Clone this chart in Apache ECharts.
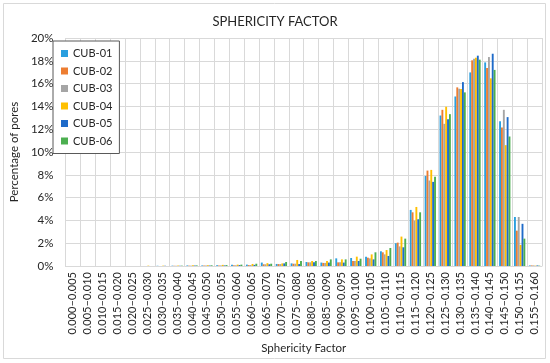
<!DOCTYPE html>
<html>
<head>
<meta charset="utf-8">
<script src="https://cdn.jsdelivr.net/npm/echarts@6/dist/echarts.min.js"></script>
<style>html,body{margin:0;padding:0;background:#fff}#c{width:550px;height:363px}</style>
</head>
<body>
<div id="c"></div>
<script>
var categories = ["0.000–0.005","0.005–0.010","0.010–0.015","0.015–0.020","0.020–0.025","0.025–0.030","0.030–0.035","0.035–0.040","0.040–0.045","0.045–0.050","0.050–0.055","0.055–0.060","0.060–0.065","0.065–0.070","0.070–0.075","0.075–0.080","0.080–0.085","0.085–0.090","0.090–0.095","0.095–0.100","0.100–0.105","0.105–0.110","0.110–0.115","0.115–0.120","0.120–0.125","0.125–0.130","0.130–0.135","0.135–0.140","0.140–0.145","0.145–0.150","0.150–0.155","0.155–0.160"];
var seriesNames = ["CUB-01","CUB-02","CUB-03","CUB-04","CUB-05","CUB-06"];
var cub01 = [0,0,0,0,0,0,0.02,0.03,0.05,0.05,0.07,0.10,0.12,0.30,0.18,0.23,0.35,0.30,0.67,0.70,0.82,1.29,2.00,4.92,7.90,13.20,14.87,16.98,17.86,12.70,4.30,0.05];
var cub02 = [0,0,0,0,0,0,0,0.02,0.03,0.04,0.05,0.06,0.08,0.15,0.17,0.20,0.32,0.27,0.32,0.44,0.73,1.20,2.05,4.71,8.37,13.70,15.67,18.04,17.36,12.15,3.10,0.05];
var cub03 = [0,0,0,0,0,0,0,0.02,0.03,0.04,0.05,0.06,0.08,0.15,0.17,0.20,0.32,0.27,0.32,0.44,0.67,1.02,1.72,3.98,7.50,12.47,15.55,18.18,18.33,13.70,4.30,0.05];
var cub04 = [0,0,0,0,0,0.03,0.03,0.04,0.06,0.07,0.10,0.12,0.18,0.25,0.23,0.53,0.44,0.44,0.58,0.82,1.02,1.40,2.58,5.18,8.43,13.97,15.52,18.27,16.46,10.60,1.85,0.03];
var cub05 = [0,0,0,0,0,0,0.02,0.02,0.04,0.04,0.05,0.08,0.10,0.15,0.23,0.17,0.32,0.30,0.30,0.44,0.58,0.88,1.64,4.10,7.38,12.88,16.13,18.45,18.62,13.06,3.70,0.05];
var cub06 = [0,0,0,0,0,0,0,0.03,0.05,0.06,0.08,0.12,0.20,0.20,0.35,0.44,0.44,0.58,0.58,0.64,1.20,1.58,2.40,4.71,7.82,13.32,15.23,18.10,17.20,11.36,2.40,0.03];
var yTicks = [0,2,4,6,8,10,12,14,16,18,20];
var colors = ["#2a9fdf","#ed7d31","#a5a5a5","#ffc000","#1f6bc9","#4caf50"];
var allData = [cub01,cub02,cub03,cub04,cub05,cub06];
var FONT = "Lato";
var TXT = "#262626";
var chart = echarts.init(document.getElementById('c'));
chart.setOption({
  animation:false,
  color: colors,
  textStyle:{fontFamily:FONT},
  title:{text:"SPHERICITY FACTOR",left:'center',top:10,textStyle:{fontFamily:FONT,fontSize:13,fontWeight:'normal',color:TXT}},
  graphic:[{type:'rect',shape:{x:3.5,y:3.5,width:542,height:355},style:{fill:'none',stroke:'#d9d9d9',lineWidth:1},z:-1}],
  legend:{
    orient:'vertical',left:53,top:41,itemWidth:7,itemHeight:7,itemGap:6.5,
    padding:[7,7,7,8],borderColor:'#595959',borderWidth:1,backgroundColor:'#fff',
    icon:'rect',textStyle:{fontFamily:FONT,fontSize:11,color:TXT},
    data:seriesNames
  },
  grid:{left:53,right:8,top:38,bottom:97},
  xAxis:{
    type:'category',data:categories,
    name:'Sphericity Factor',nameLocation:'middle',nameGap:72,
    nameTextStyle:{fontFamily:FONT,fontSize:11.5,color:TXT},
    axisTick:{show:false},
    axisLine:{lineStyle:{color:'#d9d9d9'}},
    splitLine:{show:true,lineStyle:{color:'#d9d9d9'}},
    axisLabel:{rotate:90,interval:0,fontFamily:FONT,fontSize:11,color:TXT,margin:6}
  },
  yAxis:{
    type:'value',min:yTicks[0],max:yTicks[yTicks.length-1],interval:2,
    name:'Percentage of pores',nameLocation:'middle',nameGap:38,
    nameTextStyle:{fontFamily:FONT,fontSize:11.5,color:TXT},
    axisLine:{show:false},axisTick:{show:false},
    splitLine:{lineStyle:{color:'#d9d9d9'}},
    axisLabel:{formatter:'{value}%',fontFamily:FONT,fontSize:11.5,color:TXT,margin:12}
  },
  series: seriesNames.map(function(n,i){
    return {name:n,type:'bar',data:allData[i],barGap:'0%',barCategoryGap:'24%',itemStyle:{color:colors[i]}};
  })
});
</script>
</body>
</html>
